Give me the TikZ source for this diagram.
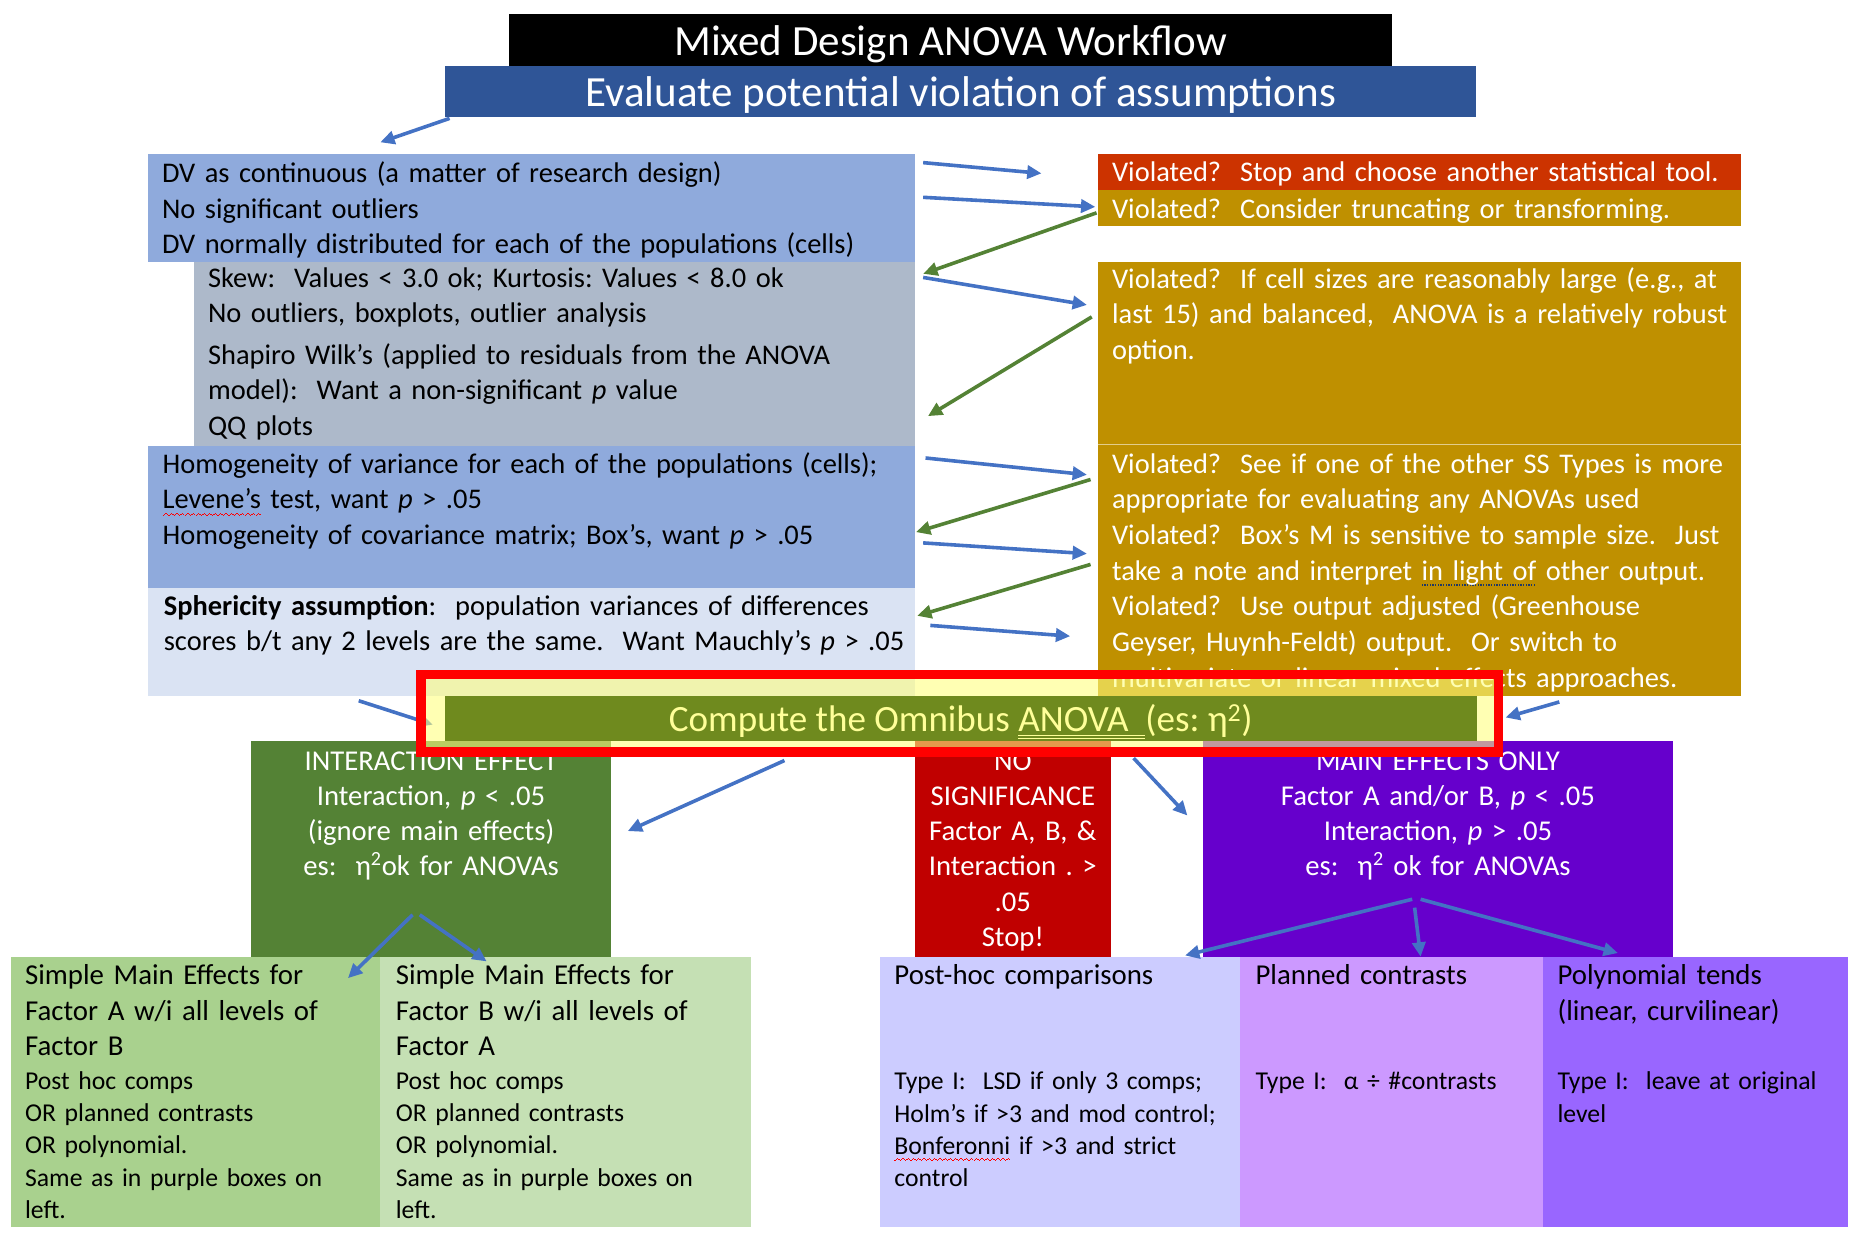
\documentclass[tikz,border=0pt]{standalone}
\usepackage{fontspec}
\setmainfont{Carlito}
\usetikzlibrary{arrows.meta}

\definecolor{subblue}{HTML}{2F5597}
\definecolor{assumpblue}{HTML}{8FAADC}
\definecolor{assumpgrey}{HTML}{ADB9CA}
\definecolor{assumplight}{HTML}{DAE3F3}
\definecolor{stopred}{HTML}{CC3300}
\definecolor{warngold}{HTML}{BF9000}
\definecolor{omnigreen}{HTML}{6F8A1E}
\definecolor{omnitext}{HTML}{FFFF99}
\definecolor{bandyellow}{HTML}{FFFF80}
\definecolor{framered}{HTML}{FF0000}
\definecolor{intgreen}{HTML}{548235}
\definecolor{nosigred}{HTML}{C00000}
\definecolor{mainpurple}{HTML}{6600CC}
\definecolor{simpleA}{HTML}{A9D18E}
\definecolor{simpleB}{HTML}{C5E0B4}
\definecolor{posthoc}{HTML}{CCCCFF}
\definecolor{planned}{HTML}{CC99FF}
\definecolor{polyn}{HTML}{9966FF}
\definecolor{flowblue}{HTML}{4472C4}
\definecolor{flowgreen}{HTML}{548235}
\definecolor{grammar}{HTML}{1F3864}

% underline marks drawn with rules under a measured word
\newsavebox\markbox
\newcommand\spellwave[1]{\sbox\markbox{#1}\leavevmode\rlap{\hbox to \wd\markbox{\color{red}%
  \xleaders\hbox{\rule[-5.6pt]{1.1pt}{0.9pt}\rule[-4.8pt]{1.1pt}{0.9pt}\rule[-4pt]{1.1pt}{0.9pt}\rule[-4.8pt]{1.1pt}{0.9pt}}\hfil}}\usebox\markbox}
\newcommand\grammardots[1]{\sbox\markbox{#1}\leavevmode\rlap{\hbox to \wd\markbox{\color{grammar}%
  \xleaders\hbox{\rule[-4.5pt]{1.1pt}{1.1pt}\kern1.1pt}\hfil}}\usebox\markbox}
\newcommand\doubleline[1]{\sbox\markbox{#1}\leavevmode\rlap{\rule[-3.5pt]{\wd\markbox}{0.9pt}}%
  \rlap{\rule[-6pt]{\wd\markbox}{0.9pt}}\usebox\markbox}

\begin{document}
\frenchspacing
\begin{tikzpicture}[x=1pt,y=-1pt,
  panel/.style={anchor=north west,inner sep=0pt,outer sep=0pt,draw=none},
  bodytext/.style={anchor=base west,inner sep=0pt,outer sep=0pt,align=left,
    font=\fontsize{23.8}{29.8}\selectfont},
  headbody/.style={bodytext,font=\fontsize{24.1}{29.4}\selectfont},
  finetext/.style={bodytext,font=\fontsize{21.5}{27}\selectfont},
  centretext/.style={anchor=base,inner sep=0pt,outer sep=0pt,align=center,text=white,
    font=\fontsize{24}{29.5}\selectfont},
  headtext/.style={anchor=base,inner sep=0pt,outer sep=0pt,text=white,
    font=\fontsize{36}{40}\selectfont},
  flow/.style={line width=3pt,-{Triangle[length=12pt,width=11pt]}},
]
\useasboundingbox (0,0) rectangle (1568,1039);

% ---- headings
\node[panel,fill=black,minimum width=738pt,minimum height=43pt] (title) at (426,12) {};
\node[headtext] (titletext) at (795,46) {Mixed Design ANOVA Workflow};
\node[panel,fill=subblue,minimum width=862pt,minimum height=43pt] (sub) at (372,55) {};
\node[headtext] (subtext) at (803.5,89) {Evaluate potential violation of assumptions};

% ---- assumptions (left column)
\node[panel,fill=assumpblue,minimum width=641pt,minimum height=90pt] (dv) at (124,129) {};
\node[bodytext,text width=640pt] (dvtext) at (135.5,152.8)
  {DV as continuous (a matter of research design)\\
   No significant outliers\\
   DV normally distributed for each of the populations (cells)};
\node[panel,fill=assumpgrey,minimum width=603pt,minimum height=154pt] (norm) at (162,219) {};
\node[bodytext,text width=600pt] (normtext) at (174,240.2)
  {Skew:~ Values < 3.0 ok; Kurtosis: Values < 8.0 ok\\
   No outliers, boxplots, outlier analysis\\[4.8pt]
   Shapiro Wilk’s (applied to residuals from the ANOVA\\
   model):~ Want a non-significant \textit{p} value\\
   QQ plots};
\node[panel,fill=assumpblue,minimum width=641pt,minimum height=119pt] (homog) at (124,373) {};
\node[bodytext,text width=640pt] (homogtext) at (136,395.8)
  {Homogeneity of variance for each of the populations (cells);\\
   \spellwave{Levene’s} test, want \textit{p} > .05\\
   Homogeneity of covariance matrix; Box’s, want \textit{p} > .05};
\node[panel,fill=assumplight,minimum width=641pt,minimum height=90pt] (spher) at (124,492) {};
\node[bodytext,text width=640pt] (sphertext) at (137,514.3)
  {\textbf{Sphericity assumption}:~ population variances of differences\\
   scores b/t any 2 levels are the same.~ Want Mauchly’s \textit{p} > .05};

% ---- remedies (right column)
\node[panel,fill=stopred,minimum width=538pt,minimum height=30pt] (stop) at (918,129) {};
\node[bodytext,text=white,text width=600pt] (stoptext) at (930,151.9)
  {Violated?~ Stop and choose another statistical tool.};
\node[panel,fill=warngold,minimum width=538pt,minimum height=30pt] (trunc) at (918,159) {};
\node[bodytext,text=white,text width=600pt] (trunctext) at (930,182.6)
  {Violated?~ Consider truncating or transforming.};
\node[panel,fill=warngold,minimum width=538pt,minimum height=153pt] (robust) at (918,219) {};
\node[bodytext,text=white,text width=600pt] (robusttext) at (930,241.1)
  {Violated?~ If cell sizes are reasonably large (e.g., at\\
   last 15) and balanced,~ ANOVA is a relatively robust\\
   option.};
\node[panel,fill=warngold,minimum width=538pt,minimum height=210pt] (adjust) at (918,372) {};
\draw[white!55!warngold,line width=1pt] (adjust.north west) -- (adjust.north east);
\node[bodytext,text=white,text width=600pt] (adjusttext) at (930,395.8)
  {Violated?~ See if one of the other SS Types is more\\
   appropriate for evaluating any ANOVAs used\\
   Violated?~ Box’s M is sensitive to sample size.~ Just\\
   take a note and interpret \grammardots{in light of} other output.\\
   Violated?~ Use output adjusted (Greenhouse\\
   Geyser, Huynh-Feldt) output.~ Or switch to\\
   multivariate or linear mixed effects approaches.};

% ---- checking arrows between the columns
\foreach \k/\xa/\ya/\xb/\yb/\col in {
   0/376/99/318/119/flowblue,
   1/772/136/871/145/flowblue,
   2/772/165/916/173/flowblue,
   3/917/178/772/229/flowgreen,
   4/772/232/909/255/flowblue,
   5/913/265/776/348/flowgreen,
   6/774/383/909/397/flowblue,
   7/912/401/766/445/flowgreen,
   8/772/454/909/463/flowblue,
   9/912/472/767/515/flowgreen,
   10/778/523/895/532/flowblue,
   11/300/586/362/606/flowblue} {
  \coordinate (chk\k s) at (\xa,\ya);
  \coordinate (chk\k e) at (\xb,\yb);
  \draw[flow,\col] (chk\k s) -- (chk\k e);
}

% ---- outcomes of the omnibus test
\node[panel,fill=intgreen,minimum width=301pt,minimum height=180pt] (inter) at (210,620) {};
\node[centretext,text width=301pt] (intertext) at (360.5,644)
  {INTERACTION EFFECT\\
   Interaction, \textit{p} < .05\\
   (ignore main effects)\\
   es:~ η\textsuperscript{2}ok for ANOVAs};
\node[panel,fill=nosigred,minimum width=164pt,minimum height=180pt] (nosig) at (765,620) {};
\node[centretext,text width=164pt] (nosigtext) at (847,644)
  {NO\\ SIGNIFICANCE\\ Factor A, B, \&\\ Interaction . >\\ .05\\ Stop!};
\node[panel,fill=mainpurple,minimum width=393pt,minimum height=180pt] (main) at (1006,620) {};
\node[centretext,text width=393pt] (maintext) at (1202.5,644)
  {MAIN EFFECTS ONLY\\
   Factor A and/or B, \textit{p} < .05\\
   Interaction, \textit{p} > .05\\
   es:~ η\textsuperscript{2} ok for ANOVAs};

% ---- follow-up analyses
\node[panel,fill=simpleA,minimum width=309pt,minimum height=226pt] (smeA) at (9,800) {};
\node[headbody,text width=300pt] (smeAhead) at (21,823.7)
  {Simple Main Effects for\\ Factor A w/i all levels of\\ Factor B};
\node[finetext,text width=300pt] (smeAdet) at (21,911)
  {Post hoc comps\\ OR planned contrasts\\ OR polynomial.\\ Same as in purple boxes on\\ left.};
\node[panel,fill=simpleB,minimum width=310pt,minimum height=226pt] (smeB) at (318,800) {};
\node[headbody,text width=300pt] (smeBhead) at (331,823.7)
  {Simple Main Effects for\\ Factor B w/i all levels of\\ Factor A};
\node[finetext,text width=300pt] (smeBdet) at (331,911)
  {Post hoc comps\\ OR planned contrasts\\ OR polynomial.\\ Same as in purple boxes on\\ left.};

\node[panel,fill=posthoc,minimum width=301pt,minimum height=226pt] (post) at (736,800) {};
\node[headbody,text width=290pt] (posthead) at (748,823.7) {Post-hoc comparisons};
\node[finetext,text width=290pt] (postdet) at (748,911.5)
  {Type I:~ LSD if only 3 comps;\\ Holm’s if >3 and mod control;\\
   \spellwave{Bonferonni} if >3 and strict\\ control};
\node[panel,fill=planned,minimum width=253pt,minimum height=226pt] (plan) at (1037,800) {};
\node[headbody,text width=240pt] (planhead) at (1050,823.7) {Planned contrasts};
\node[finetext,text width=240pt] (plandet) at (1050,911.5) {Type I:~ α ÷ \#contrasts};
\node[panel,fill=polyn,minimum width=255pt,minimum height=226pt] (poly) at (1290,800) {};
\node[headbody,text width=245pt] (polyhead) at (1302.5,823.7)
  {Polynomial tends\\ (linear, curvilinear)};
\node[finetext,text width=245pt] (polydet) at (1302.5,911.5)
  {Type I:~ leave at original\\ level};

% ---- routing arrows below the omnibus test
\foreach \k/\xa/\ya/\xb/\yb in {
   1/656/636/525/695,
   2/948/634/993/682,
   3/345/765/291/818,
   4/351/765/407/804,
   5/1181/752/991/799,
   6/1183/759/1188/800,
   7/1188/752/1353/797} {
  \coordinate (rt\k s) at (\xa,\ya);
  \coordinate (rt\k e) at (\xb,\yb);
  \draw[flow,flowblue] (rt\k s) -- (rt\k e);
}

% ---- omnibus test banner
\node[panel,fill=bandyellow,fill opacity=0.6,minimum width=901pt,minimum height=65pt] (band) at (352,564) {};
\node[panel,fill=omnigreen,minimum width=863pt,minimum height=38pt] (omnibar) at (372,582) {};
\node[anchor=base,inner sep=0pt,text=omnitext,font=\fontsize{31}{36}\selectfont] (omnitext) at (803.5,612)
  {Compute the Omnibus \doubleline{ANOVA\ \ }(es: η\textsuperscript{2})};
\node[panel,draw=framered,line width=8pt,minimum width=901pt,minimum height=65pt] (omniframe) at (352,564) {};

\coordinate (ret s) at (1304,587);
\coordinate (ret e) at (1259,600);
\draw[flow,flowblue] (ret s) -- (ret e);
\end{tikzpicture}
\end{document}
